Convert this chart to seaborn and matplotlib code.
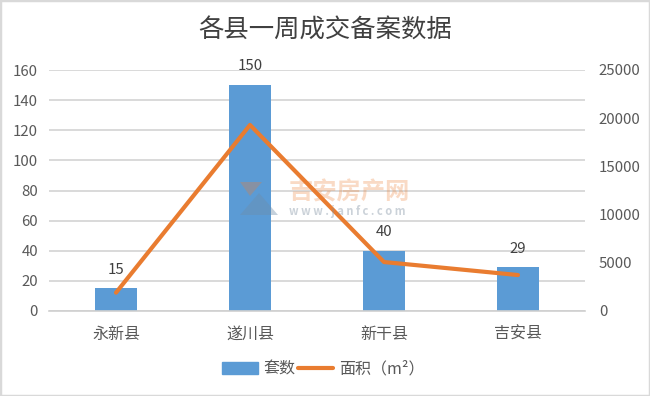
import matplotlib
matplotlib.use("Agg")
import matplotlib.pyplot as plt
import matplotlib.patches as mpatches
from matplotlib.lines import Line2D
import pandas as pd
import seaborn as sns

counties = ["永新县", "遂川县", "新干县", "吉安县"]
units = [15, 150, 40, 29]
areas = [1900, 19300, 5080, 3730]
left_ticks = [0, 20, 40, 60, 80, 100, 120, 140, 160]
right_ticks = [0, 5000, 10000, 15000, 20000, 25000]

sns.set_theme(style="white")
plt.rcParams["font.family"] = ["Noto Sans CJK SC", "DejaVu Sans"]

W, H = 650, 396
TEXT = "#595959"
fig = plt.figure(figsize=(W / 100, H / 100), dpi=100, facecolor="white")
ax = fig.add_axes([49 / W, 1 - 311 / H, 536 / W, 241 / H])
df = pd.DataFrame({"county": counties, "units": units, "area": areas})

sns.barplot(data=df, x="county", y="units", color="#5B9BD5", saturation=1, width=0.32,
            edgecolor="none", linewidth=0, ax=ax, zorder=2)
ax.set_xlim(-0.5, 3.5)
ax.set_ylim(0, 160)
ax.set_yticks(left_ticks)
ax.grid(axis="y", color="#D9D9D9", lw=1.4, zorder=0)
ax.set_axisbelow(True)
ax.set_xlabel("")
ax.set_ylabel("")
for s in ["top", "left", "right"]:
    ax.spines[s].set_visible(False)
ax.spines["bottom"].set_color("#D0D0D0")
ax.spines["bottom"].set_linewidth(1.2)
ax.tick_params(axis="x", length=0, pad=10.5, labelsize=11.5, labelcolor=TEXT)
ax.tick_params(axis="y", length=0, pad=8, labelsize=10.8, labelcolor=TEXT)
for c in ax.containers:
    ax.bar_label(c, padding=8.5, fontsize=10.8, color="#404040")

ax2 = ax.twinx()
sns.lineplot(data=df, x="county", y="area", color="#E97C30", lw=3.0, sort=False, ax=ax2, zorder=3)
ax2.set_ylim(0, 25000)
ax2.set_yticks(right_ticks)
ax2.set_xlim(-0.5, 3.5)
ax2.set_ylabel("")
ax2.grid(False)
for s in ax2.spines.values():
    s.set_visible(False)
ax2.tick_params(axis="y", length=0, pad=10, labelsize=10.8, labelcolor=TEXT)

# Watermark
fig.text(349 / W, 1 - 192 / H, "吉安房产网", color="#ED7D31", alpha=0.28, fontsize=17.5,
         fontweight="bold", ha="center", va="center", style="italic", zorder=5)
fig.text(347 / W, 1 - 211 / H, "w w w . j a n f c . c o m", color="#7F8FA0", alpha=0.4, fontsize=8,
         fontweight="bold", ha="center", va="center", style="italic", zorder=5)
fig.add_artist(mpatches.Polygon([(240 / W, 1 - 215 / H), (259 / W, 1 - 193 / H), (278 / W, 1 - 215 / H)],
                                closed=True, transform=fig.transFigure, facecolor="#6F8CA8",
                                edgecolor="none", alpha=0.4, zorder=5))
fig.add_artist(mpatches.Polygon([(240 / W, 1 - 182 / H), (262 / W, 1 - 182 / H), (250 / W, 1 - 196 / H)],
                                closed=True, transform=fig.transFigure, facecolor="#ED7D31",
                                edgecolor="none", alpha=0.3, zorder=5))

fig.text(325.5 / W, 1 - 31 / H, "各县一周成交备案数据", fontsize=18.3, color="#404040",
         ha="center", va="center")

handles = [mpatches.Patch(color="#5B9BD5", label="套数"),
           Line2D([0], [0], color="#E97C30", lw=3.0, label="面积（m²）")]
fig.legend(handles=handles, loc="center", bbox_to_anchor=(323.5 / W, 1 - 369 / H), ncol=2, frameon=False,
           fontsize=11.5, labelcolor=TEXT, handlelength=2.2, handletextpad=0.35, columnspacing=0.2)

fig.add_artist(mpatches.Rectangle((0, 0), 1, 1, transform=fig.transFigure, fill=False,
                                  edgecolor="#D9D9D9", lw=2.5))
fig.savefig("out.png", dpi=100, facecolor="white")
